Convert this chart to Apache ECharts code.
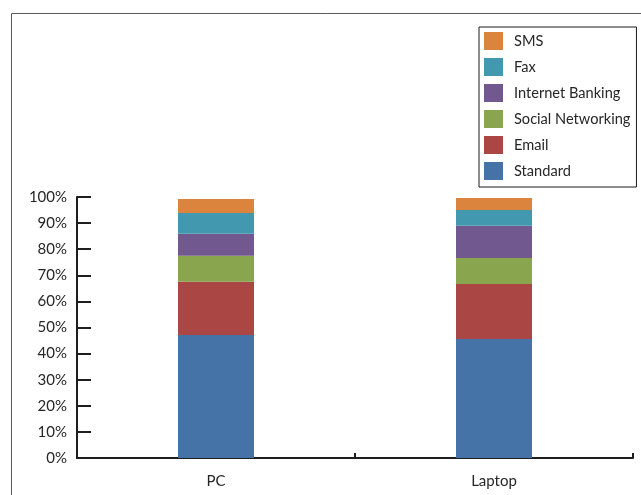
<!DOCTYPE html>
<html>
<head>
<meta charset="utf-8">
<script src="https://cdn.jsdelivr.net/npm/echarts@6/dist/echarts.min.js"></script>
<style>
  html, body { margin: 0; padding: 0; background: #fff; }
  #chart { width: 641px; height: 495px; }
</style>
</head>
<body>
<div id="chart"></div>
<script>
// Device categories
var categories = ['PC', 'Laptop'];

// Share of each usage type per device (percent)
var standard = [47.1, 45.6];
var email = [20.4, 21.1];
var socialNetworking = [10.0, 9.9];
var internetBanking = [8.4, 12.4];
var fax = [8.0, 6.0];
var sms = [5.3, 4.6];

var seriesNames = ['Standard', 'Email', 'Social Networking', 'Internet Banking', 'Fax', 'SMS'];
var seriesValues = [standard, email, socialNetworking, internetBanking, fax, sms];
var seriesColors = ['#4572A7', '#AA4643', '#89A54E', '#71588F', '#4198AF', '#DB843D'];

var yTicks = { min: 0, max: 100, interval: 10 };

var fontFamily = 'Lato, "Liberation Sans", sans-serif';
var textColor = '#262626';
var axisColor = '#1e1e1e';

var chart = echarts.init(document.getElementById('chart'), null, { renderer: 'canvas' });

var series = seriesNames.map(function (name, i) {
  return {
    name: name,
    type: 'bar',
    stack: 'total',
    barWidth: 76,
    itemStyle: { color: seriesColors[i] },
    emphasis: { disabled: true },
    data: seriesValues[i]
  };
});

chart.setOption({
  animation: false,
  backgroundColor: '#fff',
  textStyle: { fontFamily: fontFamily },
  graphic: [{
    type: 'rect',
    left: 9,
    top: 11,
    shape: { width: 700, height: 600 },
    style: { fill: 'none', stroke: '#5a5a5a', lineWidth: 1 },
    silent: true,
    z: -10
  }],
  grid: { left: 77, right: 8, top: 197, bottom: 37, containLabel: false },
  legend: {
    orient: 'vertical',
    left: 479,
    top: 27,
    data: seriesNames.slice().reverse(),
    itemWidth: 19,
    itemHeight: 18,
    itemGap: 8,
    padding: [5, 6, 7, 5],
    borderColor: '#1a1a1a',
    borderWidth: 1,
    borderRadius: 0,
    icon: 'rect',
    selectedMode: false,
    textStyle: { fontSize: 14.6, color: textColor, fontFamily: fontFamily, padding: [0, 0, 0, 6] }
  },
  xAxis: {
    type: 'category',
    data: categories,
    boundaryGap: true,
    axisLine: { show: true, lineStyle: { color: axisColor, width: 2 } },
    axisTick: { show: true, inside: true, length: 5, lineStyle: { color: axisColor, width: 2 } },
    axisLabel: { margin: 16, fontSize: 15, color: textColor, fontFamily: fontFamily },
    splitLine: { show: false }
  },
  yAxis: {
    type: 'value',
    min: yTicks.min,
    max: yTicks.max,
    interval: yTicks.interval,
    axisLine: { show: true, lineStyle: { color: axisColor, width: 2 } },
    axisTick: { show: true, inside: true, length: 14, lineStyle: { color: axisColor, width: 2 } },
    axisLabel: { margin: 10, fontSize: 15, color: textColor, fontFamily: fontFamily, formatter: '{value}%' },
    splitLine: { show: false }
  },
  series: series
});
</script>
</body>
</html>
